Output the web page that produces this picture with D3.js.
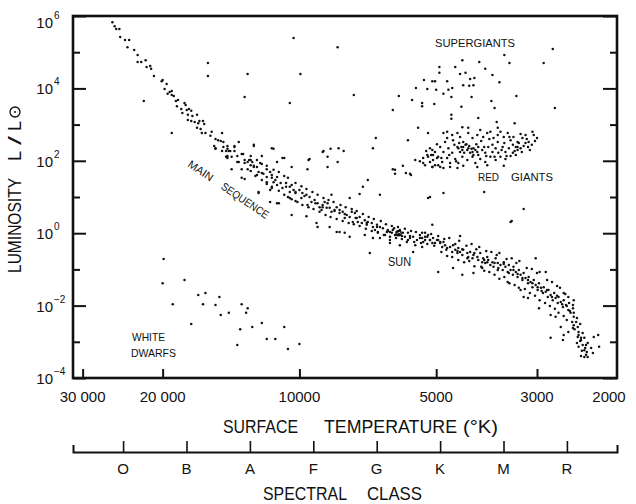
<!DOCTYPE html>
<html><head><meta charset="utf-8">
<script src="https://cdn.jsdelivr.net/npm/d3@7"></script>
<style>body{margin:0;background:#fff}</style>
</head><body>
<svg id="c" width="636" height="504"></svg>
<script>
// ---- DATA: each star = [surface temperature (K), log10 luminosity (L/Lsun)] ----
const tempTicks = [30000, 20000, 10000, 5000, 3000, 2000];
const tempTickLabels = ["30 000", "20 000", "10000", "5000", "3000", "2000"];
const lumMajorExp = [6, 4, 2, 0, -2, -4];
const lumMinorExp = [5, 3, 1, -1, -3];
const spectralClasses = ["O", "B", "A", "F", "G", "K", "M", "R"];
const sunStar = [6050, 0.0];

const mainSequence = [
[25800,5.83],[25500,5.72],[25300,5.64],[24900,5.64],[24800,5.42],[24200,5.34],[23700,5.34],[23900,5.14],[23100,5.06],[22700,4.92],
[22700,4.73],[22300,4.73],[21800,4.78],[21700,4.59],[21300,4.62],[21200,4.54],[20900,4.34],[20100,4.20],[20000,4.23],[19600,4.12],
[19800,3.98],[19500,3.85],[19300,3.90],[19100,3.82],[18900,3.79],[19100,3.93],[18500,3.68],[18700,3.65],[18600,3.51],[17900,3.60],
[17800,3.54],[18200,3.43],[17700,3.40],[17500,3.43],[17300,3.38],[18100,3.32],[17600,3.27],[17200,3.24],[16800,3.27],[17600,3.13],
[17300,3.10],[17000,3.07],[16600,3.10],[16300,3.10],[16700,3.04],[16200,3.02],[16800,2.91],[16500,2.88],[16400,2.77],[16100,2.77],
[15600,2.80],[15700,2.69],[15100,2.57],[15300,2.60],[14800,2.77],[14900,2.55],[14700,2.52],[15400,2.41],[15300,2.33],[14400,2.41],
[14400,2.33],[14800,2.27],[14500,2.27],[14200,2.27],[13900,2.38],[13600,2.52],[13900,2.41],[14400,2.13],[14100,2.11],[14400,2.08],
[13700,1.97],[13300,2.19],[13200,2.02],[13000,1.97],[15300,2.35],[14700,2.38],[14300,2.27],[13900,2.27],[13700,2.13],[13400,2.19],
[14500,2.11],[13600,1.97],[13200,1.94],[12800,2.02],[12600,1.83],[12400,1.83],[11800,1.77],[14100,1.77],[13400,1.77],[13000,1.77],
[12900,2.02],[12700,1.97],[12800,1.88],[12300,1.69],[12400,1.61],[12100,1.66],[11800,1.55],[11600,1.69],[11500,1.61],[11500,1.53],
[11200,1.55],[11800,1.41],[11400,1.41],[11200,1.33],[11500,1.28],[11600,1.19],[11000,1.39],[10900,1.25],[10700,1.39],[10500,1.28],
[10400,1.33],[10500,1.14],[10300,1.19],[10200,1.11],[10600,1.00],[10400,0.94],[10000,1.19],[9850,1.11],[9650,1.06],[9900,0.97],
[10100,0.86],[9500,1.00],[9410,0.86],[9260,0.92],[9120,0.83],[9600,0.78],[9030,0.72],[8890,0.78],[8800,0.86],[8670,0.83],
[8940,0.64],[8710,0.70],[8580,0.70],[8500,0.59],[8370,0.64],[8280,0.72],[8160,0.64],[8160,0.56],[8030,0.59],[7870,0.50],
[7950,0.42],[7750,0.45],[7670,0.59],[7550,0.56],[7480,0.42],[7630,0.31],[7440,0.31],[7370,0.45],[7290,0.28],[7180,0.36],
[7110,0.23],[7070,0.31],[6930,0.28],[6890,0.17],[6750,0.23],[6650,0.17],[6820,0.09],[6720,0.03],[6550,0.14],[6420,0.03],
[6390,0.09],[6260,0.01],[6230,0.09],[6100,0.03],[6070,-0.05],[6010,0.09],[5920,0.01],[5860,-0.10],[5770,0.01],[5710,-0.13],
[5620,-0.10],[5510,-0.19],[5430,-0.05],[5370,-0.13],[5290,-0.19],[5230,-0.10],[5160,-0.19],[5080,-0.13],[4980,-0.19],[4900,-0.24],
[5100,-0.27],[5370,-0.38],[5560,-0.33],[5800,-0.24],[6320,0.03],[6160,-0.05],[6040,0.06],[6480,-0.05],[5950,-0.08],[6190,0.14],
[5370,0.01],[5290,-0.10],[5210,-0.05],[5340,-0.24],[5030,-0.27],[4950,-0.19],[4900,-0.27],[4820,-0.24],[4850,-0.38],[4780,-0.33],
[4730,-0.41],[4660,-0.38],[4610,-0.52],[4590,-0.33],[4540,-0.46],[4490,-0.55],[4470,-0.41],[4430,-0.52],[4380,-0.60],[4360,-0.46],
[4270,-0.55],[4250,-0.66],[4210,-0.52],[4160,-0.69],[4140,-0.60],[4060,-0.66],[4040,-0.74],[4000,-0.55],[3960,-0.80],[3940,-0.69],
[3900,-0.82],[3860,-0.66],[3840,-0.74],[3800,-0.88],[3760,-0.80],[3740,-0.93],[3700,-0.69],[3660,-0.82],[3650,-0.96],[3610,-0.88],
[3570,-1.02],[3550,-0.80],[3520,-0.93],[3480,-1.07],[3460,-0.88],[3430,-1.02],[3390,-1.15],[3380,-0.93],[3340,-1.07],[3310,-1.21],
[3290,-1.02],[3260,-1.15],[3230,-1.29],[3210,-1.10],[3180,-1.24],[3140,-1.38],[3130,-1.21],[3100,-1.35],[3070,-1.49],[3050,-1.29],
[3020,-1.43],[2990,-1.57],[2970,-1.38],[2940,-1.51],[2910,-1.65],[2900,-1.49],[2870,-1.62],[2840,-1.76],[2830,-1.57],[2800,-1.71],
[2770,-1.85],[2750,-1.65],[2730,-1.79],[2700,-1.93],[2690,-1.76],[2660,-1.90],[2630,-2.04],[2620,-1.85],[2590,-1.98],[2560,-2.12],
[2550,-1.93],[2530,-2.20],[2500,-2.07],[2490,-2.31],[2460,-2.45],[2440,-2.59],[2430,-2.73],[2440,-2.87],[2400,-2.95],[2380,-3.09],
[2430,-3.14],[2360,-3.23],[2340,-3.36],[2400,-2.89],[2380,-2.76],[2320,-3.03],[2360,-3.42],
// middle band, upper edge
[12800,2.13],[12400,2.02],[12100,1.91],[11800,1.86],[11400,1.75],[11100,1.69],[10800,1.58],[10600,1.53],[10200,1.39],[9900,1.30],
[9650,1.22],[9360,1.14],[9120,1.06],[8850,0.97],[8630,0.92],[8410,0.86],[8120,0.78],[7910,0.72],[7670,0.67],[7480,0.61],
[7250,0.53],[7040,0.45],[6860,0.39],[6620,0.34],[6450,0.25],[6260,0.20],[6070,0.17],[5860,0.12],[5680,0.06],[5540,0.03],[5290,0.01],[5130,-0.02],
// middle band, lower edge
[12800,1.72],[12500,1.58],[12100,1.47],[11800,1.36],[11500,1.25],[11100,1.17],[10800,1.06],[10500,0.97],[10200,0.89],[9850,0.78],
[9550,0.72],[9310,0.67],[9030,0.59],[8760,0.50],[8540,0.45],[8280,0.39],[8030,0.34],[7790,0.28],[7590,0.25],[7370,0.20],
[7140,0.12],[6930,0.06],[6720,0.01],[6520,-0.05],[6320,-0.10],[6130,-0.13],[5950,-0.16],[5770,-0.19],[5590,-0.24],[5400,-0.27],[5230,-0.30],[5050,-0.35],
// middle band, interior
[12600,1.86],[12000,1.64],[11300,1.47],[10700,1.28],[10200,1.14],[9750,1.03],[9220,0.83],[8890,0.72],[8370,0.61],[7950,0.53],
[7520,0.42],[7110,0.28],[6750,0.17],[6390,0.06],[6040,-0.02],[5710,-0.08],[5430,-0.13],[5160,-0.19],
// lower band, upper edge
[4950,-0.08],[4800,-0.16],[4680,-0.13],[4540,-0.30],[4450,-0.21],[4290,-0.35],[4180,-0.30],[4080,-0.44],[4020,-0.38],[3880,-0.49],
[3780,-0.52],[3680,-0.60],[3630,-0.55],[3500,-0.71],[3410,-0.69],[3330,-0.82],[3280,-0.77],[3160,-0.96],[3080,-0.99],[3000,-1.10],
[2960,-1.07],[2850,-1.29],[2780,-1.35],[2710,-1.46],[2670,-1.51],[2600,-1.68],[2560,-1.76],[2500,-1.98],
// lower band, lower edge
[4870,-0.52],[4730,-0.63],[4610,-0.66],[4470,-0.74],[4340,-0.80],[4230,-0.77],[4120,-0.91],[3980,-0.93],[3920,-1.04],[3820,-1.07],
[3720,-1.15],[3630,-1.26],[3540,-1.21],[3450,-1.38],[3360,-1.43],[3290,-1.51],[3190,-1.54],[3110,-1.65],[3030,-1.73],[2960,-1.85],
[2880,-1.93],[2810,-2.01],[2740,-2.09],[2690,-2.20],[2620,-2.29],[2580,-2.40],[2510,-2.45],[2480,-2.65],[2410,-2.98],[2450,-3.03],
[2390,-3.25],[2350,-3.17],
// lower band, interior
[4750,-0.46],[4490,-0.49],[4380,-0.44],[4270,-0.69],[4120,-0.55],[3920,-0.74],[3860,-0.80],[3720,-0.82],[3660,-1.02],[3550,-0.85],
[3460,-1.10],[3380,-1.02],[3310,-1.13],[3230,-1.24],[3140,-1.29],[3070,-1.38],[2990,-1.49],[2930,-1.60],[2850,-1.57],[2780,-1.76],
[2710,-1.73],[2640,-1.96],[2580,-2.01],[2540,-2.15],[2490,-2.20],[2450,-2.34],[2410,-2.51],[2430,-2.81],[2360,-2.89],[2340,-3.09],
[2400,-3.39],[2330,-3.28]
];

const redGiants = [
[4820,2.77],[4730,2.63],[4610,2.71],[4490,2.77],[4590,2.57],[4430,2.66],[4360,2.52],[4250,2.77],[4160,2.63],[4060,2.71],
[4000,2.85],[3940,2.66],[3860,2.77],[3800,2.80],[3740,2.63],[3660,2.71],[3610,2.80],[3550,2.66],[3480,2.77],[3430,2.57],
[3380,2.66],[3310,2.52],[3230,2.63],[3180,2.71],[3130,2.52],[3070,2.80],[3050,2.71],
[5160,2.35],[5030,2.24],[4900,2.38],[4820,2.24],[4700,2.35],[4610,2.22],[4490,2.38],[4430,2.24],[4360,2.38],[4270,2.30],
[4210,2.22],[4140,2.35],[4060,2.24],[4040,2.38],[3960,2.30],[3900,2.22],[3840,2.38],[3760,2.24],[3700,2.35],[3650,2.22],
[3570,2.38],[3520,2.24],[3460,2.35],[3390,2.22],[3340,2.38],[3310,2.30],[3260,2.35],[3180,2.49],[3140,2.38],
[5340,2.08],[5210,2.11],[5080,2.02],[4950,2.11],[4850,1.97],[4730,2.08],[4660,1.94],[4540,2.05],[4470,1.94],[4380,2.11],
[4270,2.02],[4160,2.11],[4100,1.94],[4000,2.05],[3900,1.97],[3800,2.11],[3700,2.02],[3610,2.11],[3520,2.05],[3430,2.13],[3340,2.16],
[5290,1.88],[5100,1.83],[4950,1.88],[4820,1.80],[4660,1.83],[4490,1.80],[4360,1.86],[4060,1.83],[3860,1.88],[3550,1.86],
[4310,2.44],[4250,2.35],[4160,2.24],[4100,2.30],[4380,2.30],[4470,2.35],[3310,2.38],
[5260,2.27],[5130,2.16],[4980,2.46],[4870,2.08],[4780,2.52],[4680,2.16],[4560,2.44],[4520,1.99],[4450,2.49],[4400,2.38],
[4340,2.22],[4290,2.46],[4230,2.41],[4180,2.33],[4140,2.16],[4080,2.46],[4040,2.16],[3980,2.55],[3920,2.38],[3880,2.13],
[3820,2.60],[3760,2.44],[3720,2.11],[3660,2.52],[3590,2.30],[3540,2.49],[3500,2.13],[3450,2.66],[3390,2.44],[3360,2.27],
[3290,2.49],[3240,2.24],[3210,2.41],[3160,2.60],[3110,2.30],[3080,2.44],[3030,2.55],[5430,1.99],[4730,2.80],[4250,2.91],
[3660,2.91],[3260,2.74],[3000,2.63]
];

const supergiants = [
[3540,4.92],[3450,4.70],[2770,5.09],[2900,4.70],[4380,4.78],[4020,4.73],[3900,4.54],[3760,4.37],[4540,4.59],[4920,4.59],
[4920,4.43],[4430,4.40],[4310,4.43],[5320,4.23],[5100,4.20],[5030,4.20],[4730,4.20],[4210,4.26],[4120,4.29],[4360,4.09],
[4230,4.07],[4140,4.09],[3630,4.17],[5230,3.98],[5000,3.96],[4700,3.96],[4610,4.01],[4820,3.85],[5370,3.60],[5370,3.51],
[5050,3.57],[4630,3.76],[4180,3.76],[3780,3.65],[3330,3.79],[3720,3.46],[2740,3.46],[4400,3.49],[4630,3.27],[4630,3.16],
[4040,3.18],[5210,2.77],[4380,2.93],[3680,3.07],[3360,3.04]
];

const whiteDwarfs = [
[19900,-0.71],[20000,-1.38],[17900,-1.29],[19000,-1.96],[16700,-1.71],[16100,-1.65],[16300,-1.96],[15300,-1.98],[17300,-2.51],
[15000,-1.76],[13400,-1.96],[13000,-2.07],[14900,-2.26],[14300,-2.20],[13100,-2.20],[13500,-2.65],[12700,-2.59],[12100,-2.48],
[10800,-2.59],[13700,-3.09],[11800,-2.92],[11300,-2.92],[10600,-3.20],[10000,-3.06]
];

const otherStars = [
[22000,3.65],[19100,2.77],[15900,4.70],[15900,4.34],[13200,3.76],[13000,4.40],[10300,5.39],[8240,5.14],[9950,4.40],[10500,3.60],
[7590,3.82],[5540,4.01],[6040,3.79],[5650,3.68],[6230,3.40],[5480,2.91],[6790,2.63],[5770,2.57],[6890,2.35],
[8850,2.27],[8540,2.33],[8200,2.35],[7990,2.27],[8670,2.11],[8240,1.97],[11400,2.33],[12600,2.41],[12100,2.13],[11200,1.97],
[10800,2.08],[12200,1.94],[9550,2.02],[9600,1.77],[5920,1.86],[5560,2.02],[6230,1.77],
[12600,2.44],[11500,2.35],[10900,2.08],[9500,2.05],[8890,2.24],[8670,1.83],[10400,1.83],[7070,1.47],[7250,1.28],[6650,1.06],
[7370,1.08],[7750,0.97],[8500,1.06],[6160,1.75],[6160,1.64],[5710,1.64],[5340,1.94],[5230,2.16],[5100,2.30],[5080,2.16],
[4980,2.08],[5160,1.97],[5030,1.88],[5100,1.83],[4900,1.83],[5210,0.97],
[13400,1.53],[12300,1.14],[11600,0.86],[11200,0.83],[10400,0.50],[9120,0.17],[8280,0.03],[7950,0.01],[7000,-0.55],[5620,-0.52],
[6010,-0.33],[6320,-0.27],[6650,-0.13],[5830,1.66],[5680,1.61],
[13200,1.50],[12300,1.11],[11100,0.83],[9650,0.47],[9170,0.28],[8580,0.17],[8160,0.03],[7750,-0.10],[7180,-0.05],[6890,-0.13],[6320,-0.19],
[4950,-1.07],[4590,-0.96],[4380,-1.15],[4140,-1.10],[3960,-0.96],[3480,-1.35],[3260,-1.57],[3210,-1.76],[3140,-1.79],[2970,-2.07],
[2800,-2.26],[2730,-2.31],[2660,-2.59],[2630,-2.95],[2800,-2.89],[2620,-2.81],[2560,-2.73],[2500,-2.62],[2490,-2.54],[2320,-3.42],
[2260,-3.31],[2250,-2.87],[2200,-2.81],[2190,-3.14],[2280,-3.17],
[3430,0.31],[3210,0.67],[3020,-0.69],[2870,-1.07],[2620,-1.65],[2490,-1.85],[4430,-0.08],[5100,0.23],[5160,1.00],[4820,1.11],[3920,1.14],[3410,0.34]
];

// ---- CHART ----
const svg = d3.select("#c");
svg.append("rect").attr("width", 636).attr("height", 504).attr("fill", "#fff");
const font = "'Liberation Sans', Arial, sans-serif";
const ink = "#111";

const x = d3.scaleLog().domain([31500, 2000]).range([73, 617]);
const y = d3.scaleLog().domain([1e-4, 1e6]).range([378, 16]);
const lum = d => Math.pow(10, d);

// stars
const dots = svg.append("g");
[mainSequence, redGiants, supergiants, whiteDwarfs, otherStars].forEach(arr => {
  dots.append("g").selectAll("circle").data(arr).enter().append("circle")
    .attr("cx", d => x(d[0])).attr("cy", d => y(lum(d[1]))).attr("r", 1.25).attr("fill", ink);
});
svg.append("circle").attr("cx", x(sunStar[0])).attr("cy", y(lum(sunStar[1])))
  .attr("r", 2.6).attr("fill", "none").attr("stroke", ink).attr("stroke-width", 1.4);

function styleAxis(g, w) {
  g.select(".domain").remove();
  g.selectAll(".tick line").attr("stroke", ink).attr("stroke-width", w);
  g.selectAll(".tick text").remove();
}
// y ticks (inward) left and right
svg.append("g").attr("transform", "translate(73,0)")
  .call(d3.axisRight(y).tickValues(lumMajorExp.map(lum)).tickSize(13)).call(g => styleAxis(g, 2));
svg.append("g").attr("transform", "translate(73,0)")
  .call(d3.axisRight(y).tickValues(lumMinorExp.map(lum)).tickSize(7)).call(g => styleAxis(g, 2));
svg.append("g").attr("transform", "translate(617,0)")
  .call(d3.axisLeft(y).tickValues(lumMajorExp.map(lum)).tickSize(14)).call(g => styleAxis(g, 2));
svg.append("g").attr("transform", "translate(617,0)")
  .call(d3.axisLeft(y).tickValues(lumMinorExp.map(lum)).tickSize(7)).call(g => styleAxis(g, 2));
// x ticks (inward)
svg.append("g").attr("transform", "translate(0,378)")
  .call(d3.axisTop(x).tickValues(tempTicks.slice(0, 5)).tickSize(9)).call(g => styleAxis(g, 2));

// frame
svg.append("rect").attr("x", 73).attr("y", 16).attr("width", 544).attr("height", 362)
  .attr("fill", "none").attr("stroke", ink).attr("stroke-width", 2.6);

// y tick labels 10^n
lumMajorExp.forEach(e => {
  const yy = y(lum(e)) + (e === 6 ? 6 : 0);
  svg.append("text").attr("x", 53).attr("y", yy + 6).attr("text-anchor", "end")
    .attr("font-family", font).attr("font-size", 15).attr("fill", ink).text("10");
  svg.append("text").attr("x", 54).attr("y", yy - 3).attr("text-anchor", "start")
    .attr("font-family", font).attr("font-size", 10).attr("fill", ink)
    .text(e < 0 ? "\u2212" + Math.abs(e) : String(e));
});
// x tick labels
tempTicks.forEach((t, i) => {
  svg.append("text").attr("x", x(t) + (i === 5 ? -8 : 0)).attr("y", 402).attr("text-anchor", "middle")
    .attr("font-family", font).attr("font-size", 15).attr("fill", ink).text(tempTickLabels[i]);
});

// spectral class axis
const sp = d3.scalePoint().domain(spectralClasses).range([73, 617]).padding(0.79);
svg.append("g").attr("transform", "translate(0,452)")
  .call(d3.axisTop(sp).tickSize(11).tickSizeOuter(7))
  .call(g => {
    g.select(".domain").attr("stroke", ink).attr("stroke-width", 2).attr("fill", "none");
    g.selectAll(".tick line").attr("stroke", ink).attr("stroke-width", 1.6);
    g.selectAll(".tick text").remove();
  });
spectralClasses.forEach(c => {
  svg.append("text").attr("x", sp(c)).attr("y", 474).attr("text-anchor", "middle")
    .attr("font-family", font).attr("font-size", 15).attr("fill", ink).text(c);
});

// text helper: fits word between x0 and x1
function word(parent, txt, x0, x1, base, size) {
  return parent.append("text").attr("x", x0).attr("y", base)
    .attr("font-family", font).attr("font-size", size).attr("fill", ink)
    .attr("textLength", x1 - x0).attr("lengthAdjust", "spacingAndGlyphs").text(txt);
}
// axis titles
word(svg, "SURFACE", 223, 298, 433, 19);
word(svg, "TEMPERATURE", 324, 457, 433, 19);
word(svg, "(\u00B0K)", 463, 498, 433, 19);
word(svg, "SPECTRAL", 263, 347, 500, 18);
word(svg, "CLASS", 367, 422, 500, 18);
const yt = svg.append("g").attr("transform", "translate(21,273) rotate(-90)");
word(yt, "LUMINOSITY", 0, 95, 0, 18);
word(yt, "L", 112, 122, 0, 18);
word(yt, "/", 128, 137, 0, 18);
word(yt, "L", 142, 152, 0, 18);
yt.append("circle").attr("cx", 161).attr("cy", -6).attr("r", 5).attr("fill", "none").attr("stroke", ink).attr("stroke-width", 1.3);
yt.append("circle").attr("cx", 161).attr("cy", -6).attr("r", 1).attr("fill", ink);

// annotations
word(svg, "SUPERGIANTS", 435, 515, 47, 11.5);
word(svg, "RED", 478, 499, 181, 11.5);
word(svg, "GIANTS", 511, 553, 181, 11.5);
word(svg, "SUN", 388, 411, 266, 12);
word(svg, "WHITE", 132, 165, 341, 11.5);
word(svg, "DWARFS", 131, 176, 357, 11.5);
const ms = svg.append("g").attr("transform", "translate(187,166) rotate(34)");
word(ms, "MAIN", 0, 28, 0, 11);
word(ms, "SEQUENCE", 40, 95, 0, 11);
</script>
</body></html>
